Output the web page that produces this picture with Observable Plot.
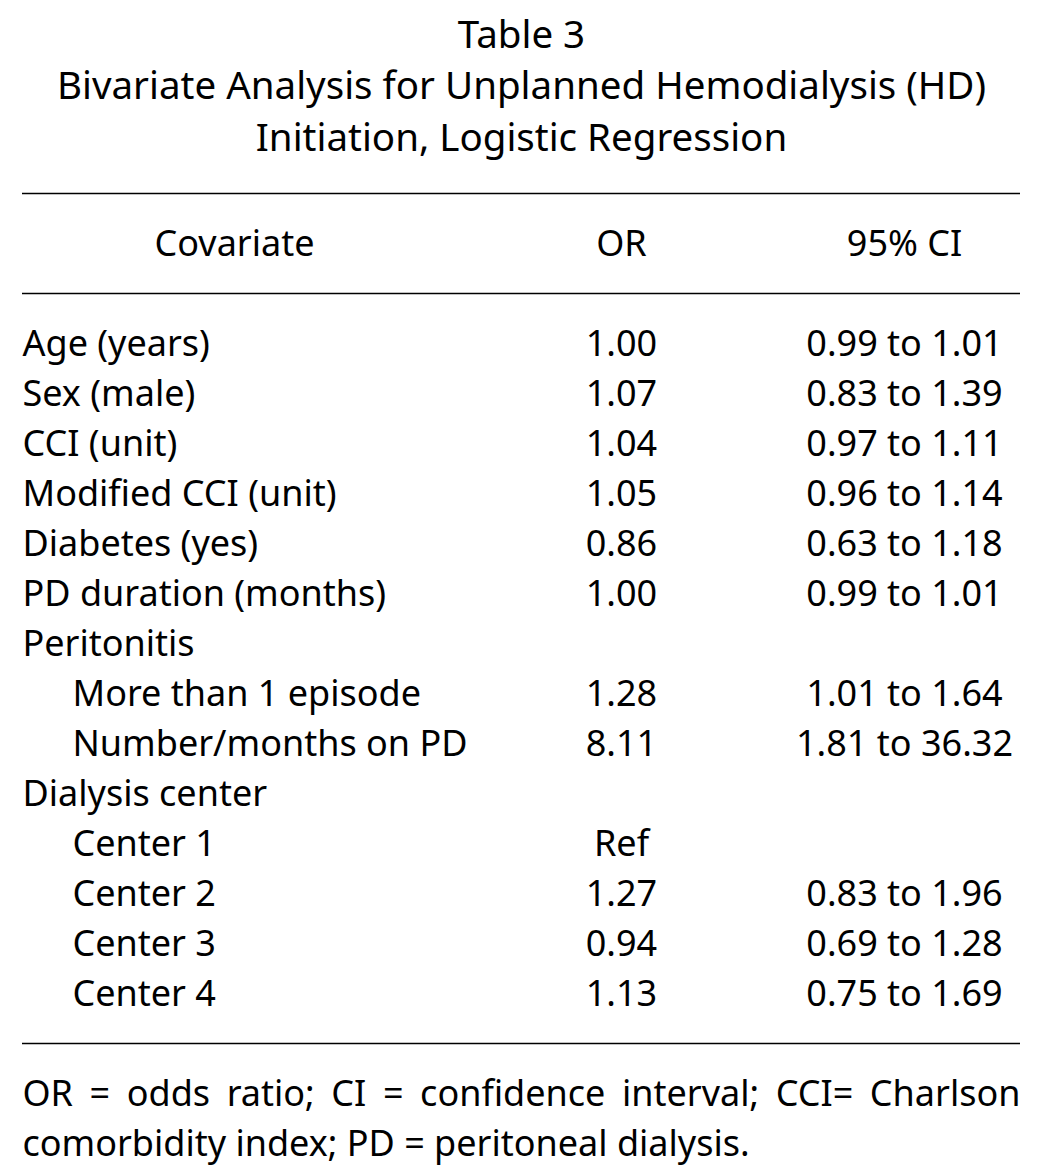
<!DOCTYPE html>
<html>
<head>
<meta charset="utf-8">
<script src="https://cdn.jsdelivr.net/npm/d3@7"></script>
<script src="https://cdn.jsdelivr.net/npm/@observablehq/plot@0.6"></script>
<style>
  html, body { margin: 0; padding: 0; background: #fff; }
  #chart svg { display: block; }
</style>
</head>
<body>
<div id="chart"></div>
<script>
// ---- Data ----
const titleLines = ["Table 3", "Bivariate Analysis for Unplanned Hemodialysis (HD)", "Initiation, Logistic Regression"];
const headers = ["Covariate", "OR", "95% CI"];
const covariates = [
  "Age (years)", "Sex (male)", "CCI (unit)", "Modified CCI (unit)", "Diabetes (yes)",
  "PD duration (months)", "Peritonitis", "More than 1 episode", "Number/months on PD",
  "Dialysis center", "Center 1", "Center 2", "Center 3", "Center 4"
];
const level = [0, 0, 0, 0, 0, 0, 0, 1, 1, 0, 1, 1, 1, 1];
const oddsRatio = [1.00, 1.07, 1.04, 1.05, 0.86, 1.00, null, 1.28, 8.11, null, "Ref", 1.27, 0.94, 1.13];
const ciLow  = [0.99, 0.83, 0.97, 0.96, 0.63, 0.99, null, 1.01, 1.81, null, null, 0.83, 0.69, 0.75];
const ciHigh = [1.01, 1.39, 1.11, 1.14, 1.18, 1.01, null, 1.64, 36.32, null, null, 1.96, 1.28, 1.69];
const footnote = ["OR = odds ratio; CI = confidence interval; CCI= Charlson", "comorbidity index; PD = peritoneal dialysis."];

// ---- Layout ----
const W = 1042, H = 1176;
const FONT = "'Noto Sans', 'Open Sans', sans-serif";
const FS = 36, TFS = 38.5;
const left = 22, right = 1020, indentX = 72;
const colOR = 621, colCI = 904, colCov = 234;
const row0 = 343.5, rowStep = 50;

const rows = covariates.map((c, i) => ({
  cov: c,
  x: level[i] ? indentX : left,
  y: row0 + i * rowStep,
  or: oddsRatio[i] == null ? "" : (typeof oddsRatio[i] === "number" ? oddsRatio[i].toFixed(2) : oddsRatio[i]),
  ci: ciLow[i] == null ? "" : `${ciLow[i].toFixed(2)} to ${ciHigh[i].toFixed(2)}`
}));
const titles = titleLines.map((t, i) => ({t, y: [35, 86.5, 138.5][i]}));
const heads = headers.map((h, i) => ({h, x: [colCov, colOR, colCI][i], y: 244}));
const rules = [193, 293, 1043].map(y => ({y}));
const foot = footnote.map((t, i) => ({t, y: [1093.5, 1143.5][i], i}));

const chart = Plot.plot({
  width: W, height: H,
  margin: 0,
  x: {domain: [0, W], range: [0, W], axis: null},
  y: {domain: [0, H], range: [0, H], axis: null},
  style: {fontFamily: FONT, background: "#fff", color: "#000"},
  marks: [
    Plot.ruleY(rules, {y: "y", x1: left, x2: right, stroke: "#000", strokeWidth: 1.5}),
    Plot.text(titles, {x: W / 2, y: "y", text: "t", fontSize: TFS, fill: "#000", textAnchor: "middle"}),
    Plot.text(heads, {x: "x", y: "y", text: "h", fontSize: FS, fill: "#000", textAnchor: "middle"}),
    Plot.text(rows, {x: "x", y: "y", text: "cov", fontSize: FS, fill: "#000", textAnchor: "start"}),
    Plot.text(rows, {x: colOR, y: "y", text: "or", fontSize: FS, fill: "#000", textAnchor: "middle"}),
    Plot.text(rows, {x: colCI, y: "y", text: "ci", fontSize: FS, fill: "#000", textAnchor: "middle"}),
    Plot.text(foot, {x: left, y: "y", text: "t", fontSize: FS, fill: "#000", textAnchor: "start"})
  ]
});
document.getElementById("chart").appendChild(chart);

// justify the first footnote line across the table width via word spacing
for (const el of chart.querySelectorAll("text")) {
  if (el.textContent === footnote[0]) {
    const len = el.getComputedTextLength();
    const spaces = (footnote[0].match(/ /g) || []).length;
    const extra = (right - left - len) / spaces;
    if (extra > 0) el.style.wordSpacing = extra + "px";
  }
}
</script>
</body>
</html>
